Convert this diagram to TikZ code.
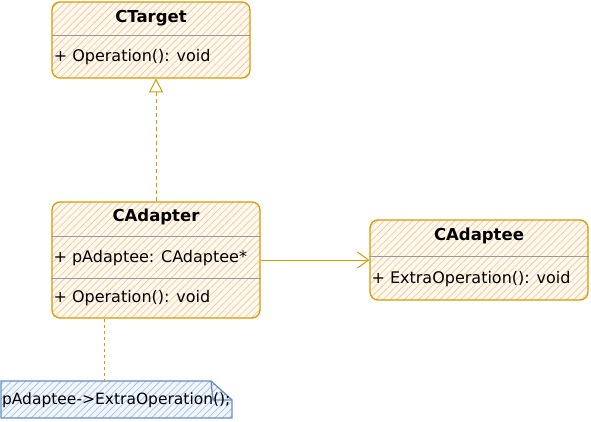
\documentclass[tikz,border=0pt]{standalone}
\usepackage{fontspec}
\setmainfont{DejaVu Sans}
\usetikzlibrary{arrows.meta, patterns.meta, positioning}

\definecolor{boxline}{HTML}{D79B00}
\definecolor{boxhatch}{HTML}{F7CB98}
\definecolor{boxfill}{HTML}{FFF9F1}
\definecolor{noteline}{HTML}{6C8EBF}
\definecolor{notehatch}{HTML}{A9C4EB}
\definecolor{notefill}{HTML}{F1F6FD}
\definecolor{sepline}{HTML}{999999}

\tikzstyle{classbox} = [rectangle, rounded corners=8pt, draw=boxline, line width=1.3pt, preaction={fill=boxfill}, pattern={Lines[angle=45,distance=5pt,line width=0.8pt]}, pattern color=boxhatch, inner sep=0pt]
\tikzstyle{classname} = [font=\fontsize{16.5}{19}\selectfont\bfseries, inner sep=0pt]
\tikzstyle{member} = [anchor=west, inner sep=0pt, font=\fontsize{16}{19}\selectfont]
\tikzstyle{sep} = [draw=sepline, line width=0.7pt]
\tikzstyle{notebox} = [draw=noteline, line width=1.3pt, preaction={fill=notefill}, pattern={Lines[angle=45,distance=5pt,line width=0.8pt]}, pattern color=notehatch]
\tikzstyle{implements} = [draw=boxline, line width=1pt, dash pattern=on 4pt off 3pt, -{Triangle[open, length=14pt, width=14pt]}]
\tikzstyle{assoc} = [draw=boxline, line width=1pt, -{Straight Barb[length=11pt, width=16pt]}]
\tikzstyle{notelink} = [draw=boxline, line width=1pt, dash pattern=on 3pt off 3pt]

\begin{document}
\begin{tikzpicture}[x=1pt, y=-1pt]
\useasboundingbox (0,0) rectangle (591,421);

% classes
\node (target) [classbox, minimum width=198pt, minimum height=76pt] at (151,40) {};
\node (adapter) [classbox, minimum width=208pt, minimum height=116pt] at (156,260) {};
\node (adaptee) [classbox, minimum width=218pt, minimum height=80pt] at (479,260) {};

\node (targetname) [classname] at (target.north |- 0,18) {CTarget};
\draw [sep] (target.west |- 0,35) -- (target.east |- 0,35);
\node (targetop) [member] at ([xshift=2pt]target.west |- 0,57) {+ Operation(): void};

\node (adaptername) [classname] at (adapter.north |- 0,217) {CAdapter};
\draw [sep] (adapter.west |- 0,236) -- (adapter.east |- 0,236);
\node (adapterptr) [member] at ([xshift=2pt]adapter.west |- 0,258) {+ pAdaptee: CAdaptee*};
\draw [sep] (adapter.west |- 0,278) -- (adapter.east |- 0,278);
\node (adapterop) [member] at ([xshift=2pt]adapter.west |- 0,298) {+ Operation(): void};

\node (adapteename) [classname] at (adaptee.north |- 0,236) {CAdaptee};
\draw [sep] (adaptee.west |- 0,256) -- (adaptee.east |- 0,256);
\node (adapteeop) [member] at ([xshift=2pt]adaptee.west |- 0,279) {+ ExtraOperation(): void};

% note with folded corner
\draw [notebox] (1,418) -- (1,381) -- (211,381) -- (232,400) -- (232,418) -- cycle;
\draw [draw=noteline, line width=1.3pt] (211,381) -- (213,400) -- (232,400);
\node (note) [minimum width=231pt, minimum height=37pt, inner sep=1pt, text width=229pt, align=left, font=\fontsize{15.5}{18}\selectfont] at (116.5,400.5) {pAdaptee->ExtraOperation();};
\coordinate (linkx) at (104,0);

% connectors
\draw [implements] (adapter.north) -- (adapter.north |- target.south);
\draw [assoc] (adapter.east) -- (adaptee.west);
\draw [notelink] (note.north -| linkx) -- (adapter.south -| linkx);

\end{tikzpicture}
\end{document}
